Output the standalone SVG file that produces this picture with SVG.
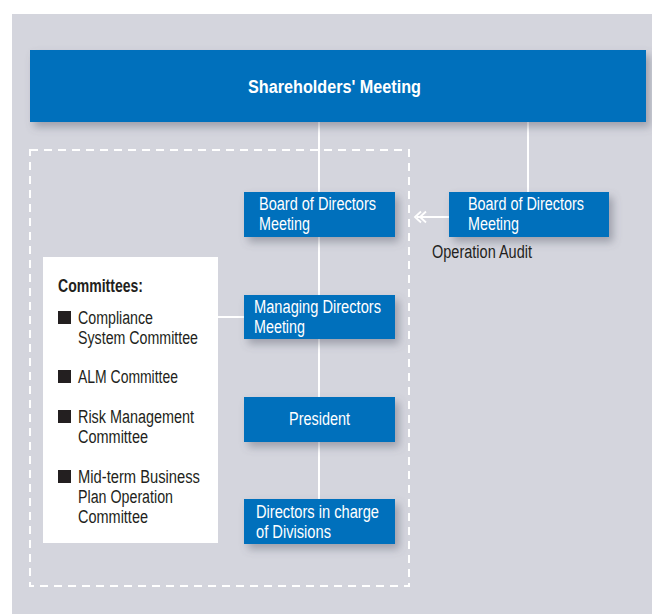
<svg xmlns="http://www.w3.org/2000/svg" width="652" height="614" viewBox="0 0 652 614">
  <defs>
    <filter id="shadow" x="-20%" y="-30%" width="150%" height="180%">
      <feDropShadow dx="4" dy="5" stdDeviation="4" flood-color="#5a5f70" flood-opacity="0.45"/>
    </filter>
  </defs>
  <style>
    .node { fill: #0570bc; filter: url(#shadow); }
    .label { font-family: "Liberation Sans", Arial, sans-serif; font-size: 18px; fill: #ffffff; }
    .dark { font-family: "Liberation Sans", Arial, sans-serif; font-size: 18px; fill: #231f20; }
    .link { stroke: #ffffff; stroke-width: 2; fill: none; }
    .chev { stroke: #ffffff; stroke-width: 1.8; fill: none; }
  </style>

  <!-- background panel -->
  <rect x="12" y="14" width="640" height="600" fill="#d4d5dd"/>

  <!-- dashed boundary of the executive body -->
  <rect x="30" y="150" width="379" height="436" fill="none" stroke="#ffffff" stroke-width="2" stroke-dasharray="8 6"/>

  <!-- connectors -->
  <g id="connectors">
    <line class="link" x1="319" y1="122" x2="319" y2="499"/>
    <line class="link" x1="528" y1="122" x2="528" y2="192"/>
    <line class="link" x1="218" y1="317" x2="244" y2="317"/>
    <line class="link" x1="449" y1="217" x2="417" y2="217"/>
    <path class="chev" d="M421 211.5 L415 217 L421 222.5 M426 211.5 L420 217 L426 222.5"/>
  </g>

  <g id="shareholders">
    <rect class="node" x="30" y="50" width="616" height="72"/>
    <text class="label" x="248" y="93" font-weight="bold" font-size="22" textLength="173" lengthAdjust="spacingAndGlyphs">Shareholders' Meeting</text>
  </g>

  <g id="board">
    <rect class="node" x="244" y="192" width="151" height="45"/>
    <text class="label" x="259" y="210" textLength="117" lengthAdjust="spacingAndGlyphs">Board of Directors</text>
    <text class="label" x="259" y="230" textLength="51" lengthAdjust="spacingAndGlyphs">Meeting</text>
  </g>

  <g id="audit-board">
    <rect class="node" x="449" y="192" width="160" height="45"/>
    <text class="label" x="468" y="210" textLength="116" lengthAdjust="spacingAndGlyphs">Board of Directors</text>
    <text class="label" x="468" y="230" textLength="51" lengthAdjust="spacingAndGlyphs">Meeting</text>
  </g>
  <text class="dark" x="432" y="258" textLength="100" lengthAdjust="spacingAndGlyphs">Operation Audit</text>

  <g id="managing">
    <rect class="node" x="244" y="295" width="151" height="44"/>
    <text class="label" x="254" y="313" textLength="127" lengthAdjust="spacingAndGlyphs">Managing Directors</text>
    <text class="label" x="254" y="333" textLength="51" lengthAdjust="spacingAndGlyphs">Meeting</text>
  </g>

  <g id="president">
    <rect class="node" x="244" y="397" width="151" height="45"/>
    <text class="label" x="289" y="425" textLength="61" lengthAdjust="spacingAndGlyphs">President</text>
  </g>

  <g id="divisions">
    <rect class="node" x="244" y="499" width="151" height="45"/>
    <text class="label" x="256" y="518" textLength="123" lengthAdjust="spacingAndGlyphs">Directors in charge</text>
    <text class="label" x="256" y="538" textLength="75" lengthAdjust="spacingAndGlyphs">of Divisions</text>
  </g>

  <g id="committees">
    <rect x="43" y="257" width="175" height="286" fill="#ffffff"/>
    <text class="dark" x="58" y="292" font-weight="bold" textLength="85" lengthAdjust="spacingAndGlyphs">Committees:</text>
    <rect x="58" y="311" width="13" height="13" fill="#231f20"/>
    <text class="dark" x="78" y="324" textLength="75" lengthAdjust="spacingAndGlyphs">Compliance</text>
    <text class="dark" x="78" y="344" textLength="120" lengthAdjust="spacingAndGlyphs">System Committee</text>
    <rect x="58" y="370" width="13" height="13" fill="#231f20"/>
    <text class="dark" x="78" y="383" textLength="100" lengthAdjust="spacingAndGlyphs">ALM Committee</text>
    <rect x="58" y="410" width="13" height="13" fill="#231f20"/>
    <text class="dark" x="78" y="423" textLength="116" lengthAdjust="spacingAndGlyphs">Risk Management</text>
    <text class="dark" x="78" y="443" textLength="70" lengthAdjust="spacingAndGlyphs">Committee</text>
    <rect x="58" y="470" width="13" height="13" fill="#231f20"/>
    <text class="dark" x="78" y="483" textLength="122" lengthAdjust="spacingAndGlyphs">Mid-term Business</text>
    <text class="dark" x="78" y="503" textLength="95" lengthAdjust="spacingAndGlyphs">Plan Operation</text>
    <text class="dark" x="78" y="523" textLength="70" lengthAdjust="spacingAndGlyphs">Committee</text>
  </g>
</svg>
